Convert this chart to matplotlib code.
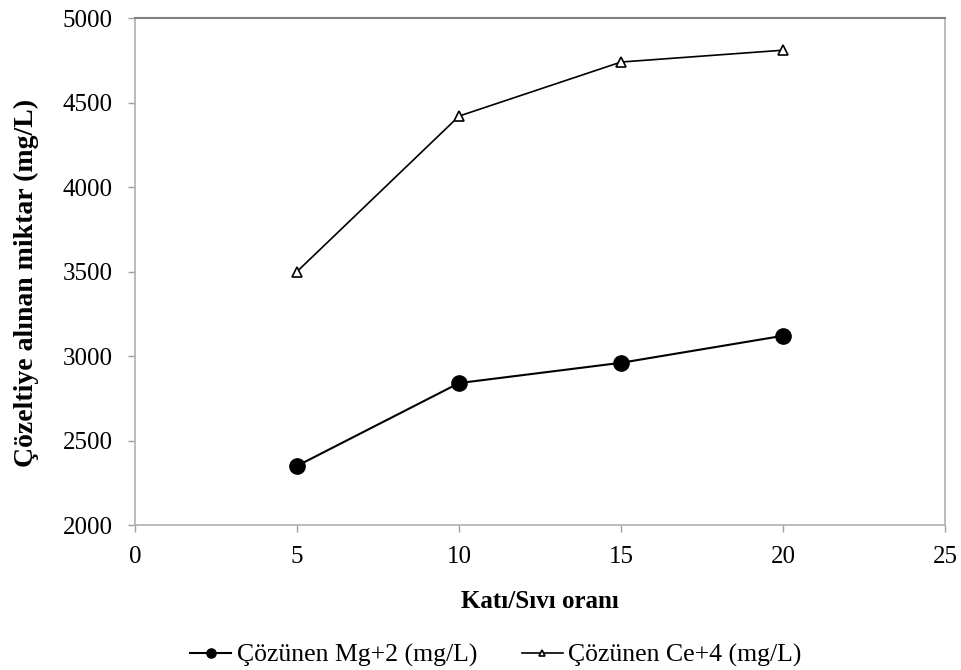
import matplotlib
matplotlib.use("Agg")
import matplotlib.pyplot as plt

plt.rcParams['font.family'] = ['Liberation Serif', 'DejaVu Serif']

ratio = [5, 10, 15, 20]
mg_values = [2350, 2840, 2960, 3120]
ce_values = [3500, 4420, 4740, 4810]
x_ticks = [0, 5, 10, 15, 20, 25]
y_ticks = [2000, 2500, 3000, 3500, 4000, 4500, 5000]

fig = plt.figure(figsize=(9.61, 6.70), dpi=100)
ax = fig.add_axes([0.1405, 0.2164, 0.843, 0.7566])

ax.plot(ratio, mg_values, color='black', lw=1.5, marker='o', markersize=11,
        markerfacecolor='black', label='Çözünen Mg+2 (mg/L)')
ax.plot(ratio, ce_values, color='black', lw=1.2, marker='^', markersize=7,
        markerfacecolor='white', markeredgecolor='black', markeredgewidth=1.2,
        label='Çözünen Ce+4 (mg/L)')

ax.set_xlim(0, 25)
ax.set_ylim(2000, 5000)
ax.set_xticks(x_ticks)
ax.set_yticks(y_ticks)
ax.tick_params(direction='out', length=5, width=1, color='#a0a0a0',
               labelsize=18)
ax.tick_params(axis='y', pad=11)
ax.tick_params(axis='x', pad=10)
for side in ['left', 'right', 'bottom']:
    ax.spines[side].set_color('#b0b0b0')
    ax.spines[side].set_linewidth(1.2)
ax.spines['top'].set_color('#808080')
ax.spines['top'].set_linewidth(1.5)

ax.set_xlabel('Katı/Sıvı oranı', fontsize=18, fontweight='bold', labelpad=16)
ax.set_ylabel('Çözeltiye alınan miktar (mg/L)', fontsize=20, fontweight='bold')
ax.yaxis.set_label_coords(-0.119, 0.477)

fig.legend(loc='center', bbox_to_anchor=(0.516, 0.022), ncol=2, frameon=False,
           fontsize=18.5, handlelength=1.6, handletextpad=0.2, columnspacing=1.75,
           markerscale=0.6)

fig.savefig('out.png', dpi=100)
